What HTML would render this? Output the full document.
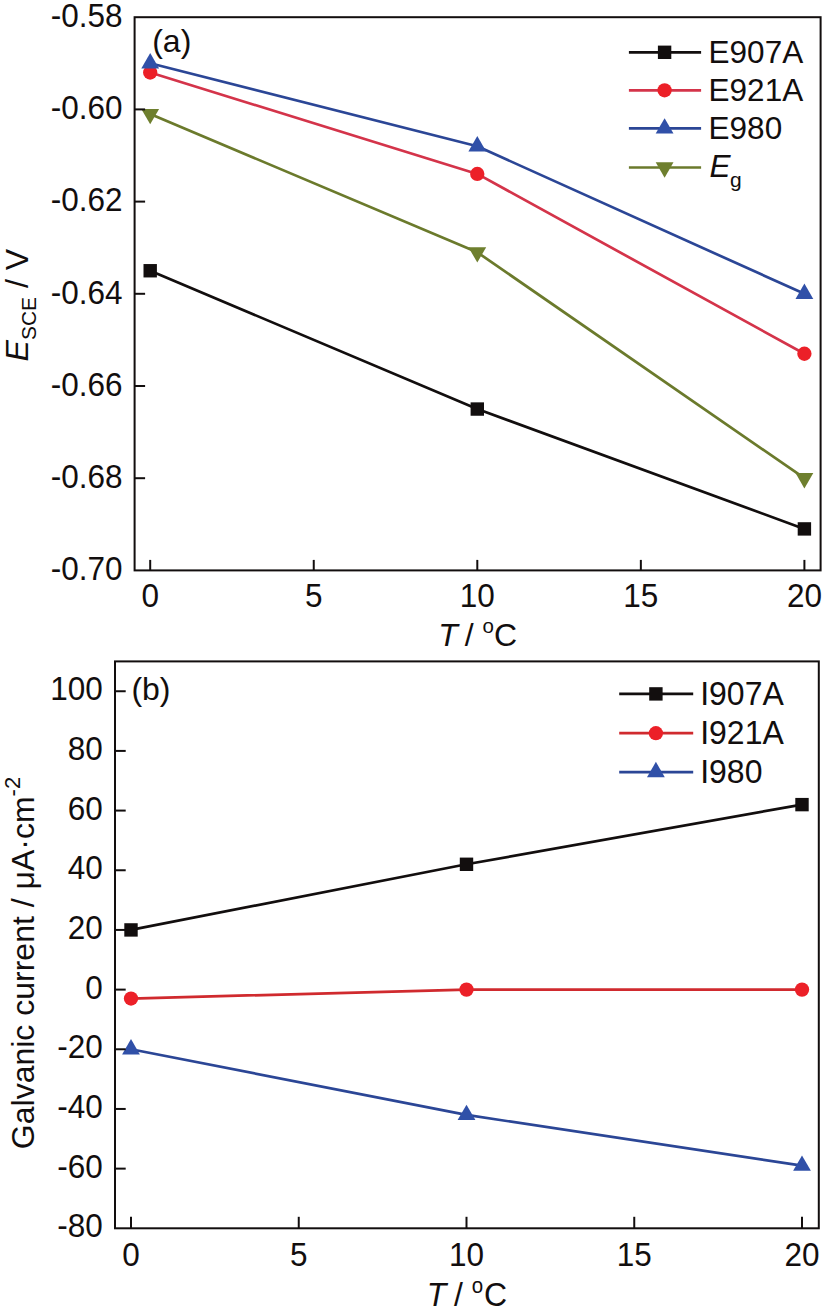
<!DOCTYPE html>
<html><head><meta charset="utf-8"><title>Chart</title>
<style>
html,body{margin:0;padding:0;background:#fff;}
svg{display:block;}
text{font-family:"Liberation Sans", Arial, Helvetica, sans-serif;fill:#120e0e;}
</style></head>
<body>
<svg width="827" height="1310" viewBox="0 0 827 1310">
<rect width="827" height="1310" fill="#fff"/>
<polyline points="150.20,270.75 477.30,409.05 804.40,528.91" fill="none" stroke="#120e0e" stroke-width="2.7" stroke-linejoin="round"/>
<rect x="143.50" y="264.05" width="13.40" height="13.40" fill="#120e0e"/>
<rect x="470.60" y="402.35" width="13.40" height="13.40" fill="#120e0e"/>
<rect x="797.70" y="522.21" width="13.40" height="13.40" fill="#120e0e"/>
<polyline points="150.20,72.52 477.30,173.94 804.40,353.73" fill="none" stroke="#D4344A" stroke-width="2.7" stroke-linejoin="round"/>
<circle cx="150.20" cy="72.52" r="7.15" fill="#EC2028"/>
<circle cx="477.30" cy="173.94" r="7.15" fill="#EC2028"/>
<circle cx="804.40" cy="353.73" r="7.15" fill="#EC2028"/>
<polyline points="150.20,63.30 477.30,146.28 804.40,293.80" fill="none" stroke="#2B4696" stroke-width="2.7" stroke-linejoin="round"/>
<polygon points="150.20,53.03 141.30,68.43 159.10,68.43" fill="#3050A8"/>
<polygon points="477.30,136.01 468.40,151.41 486.20,151.41" fill="#3050A8"/>
<polygon points="804.40,283.53 795.50,298.93 813.30,298.93" fill="#3050A8"/>
<polyline points="150.20,114.01 477.30,252.31 804.40,478.20" fill="none" stroke="#6B7A2C" stroke-width="2.7" stroke-linejoin="round"/>
<polygon points="150.20,124.28 141.30,108.88 159.10,108.88" fill="#6E7F2E"/>
<polygon points="477.30,262.58 468.40,247.18 486.20,247.18" fill="#6E7F2E"/>
<polygon points="804.40,488.47 795.50,473.07 813.30,473.07" fill="#6E7F2E"/>
<rect x="134.6" y="17.2" width="686.0" height="553.1999999999999" fill="none" stroke="#120e0e" stroke-width="2.0"/>
<text transform="translate(122.50,27.00) scale(1,1.035)" font-size="31.5" text-anchor="end">-0.58</text>
<line x1="134.60" y1="109.40" x2="145.10" y2="109.40" stroke="#120e0e" stroke-width="2.0"/>
<text transform="translate(122.50,119.20) scale(1,1.035)" font-size="31.5" text-anchor="end">-0.60</text>
<line x1="134.60" y1="201.60" x2="145.10" y2="201.60" stroke="#120e0e" stroke-width="2.0"/>
<text transform="translate(122.50,211.40) scale(1,1.035)" font-size="31.5" text-anchor="end">-0.62</text>
<line x1="134.60" y1="293.80" x2="145.10" y2="293.80" stroke="#120e0e" stroke-width="2.0"/>
<text transform="translate(122.50,303.60) scale(1,1.035)" font-size="31.5" text-anchor="end">-0.64</text>
<line x1="134.60" y1="386.00" x2="145.10" y2="386.00" stroke="#120e0e" stroke-width="2.0"/>
<text transform="translate(122.50,395.80) scale(1,1.035)" font-size="31.5" text-anchor="end">-0.66</text>
<line x1="134.60" y1="478.20" x2="145.10" y2="478.20" stroke="#120e0e" stroke-width="2.0"/>
<text transform="translate(122.50,488.00) scale(1,1.035)" font-size="31.5" text-anchor="end">-0.68</text>
<text transform="translate(122.50,580.20) scale(1,1.035)" font-size="31.5" text-anchor="end">-0.70</text>
<line x1="150.20" y1="570.40" x2="150.20" y2="559.90" stroke="#120e0e" stroke-width="2.0"/>
<text transform="translate(150.20,607.00) scale(1,1.04)" font-size="31.5" text-anchor="middle">0</text>
<line x1="313.75" y1="570.40" x2="313.75" y2="559.90" stroke="#120e0e" stroke-width="2.0"/>
<text transform="translate(313.75,607.00) scale(1,1.04)" font-size="31.5" text-anchor="middle">5</text>
<line x1="477.30" y1="570.40" x2="477.30" y2="559.90" stroke="#120e0e" stroke-width="2.0"/>
<text transform="translate(477.30,607.00) scale(1,1.04)" font-size="31.5" text-anchor="middle">10</text>
<line x1="640.85" y1="570.40" x2="640.85" y2="559.90" stroke="#120e0e" stroke-width="2.0"/>
<text transform="translate(640.85,607.00) scale(1,1.04)" font-size="31.5" text-anchor="middle">15</text>
<line x1="804.40" y1="570.40" x2="804.40" y2="559.90" stroke="#120e0e" stroke-width="2.0"/>
<text transform="translate(804.40,607.00) scale(1,1.04)" font-size="31.5" text-anchor="middle">20</text>
<g transform="translate(0,645.80) scale(1,1.0)"><text x="438.15" y="0" font-size="32.0" font-style="italic">T</text><text x="464.85" y="0" font-size="32.0">/</text><text x="482.50" y="-12.4" font-size="20.5">o</text><text x="493.95" y="0" font-size="32.0">C</text></g>
<text transform="translate(28.2,305.2) rotate(-90)" font-size="32.0" text-anchor="middle"><tspan font-style="italic">E</tspan><tspan font-size="21" dy="8">SCE</tspan><tspan dy="-8"> / V</tspan></text>
<text x="152.20" y="52.20" font-size="32" text-anchor="start">(a)</text>
<line x1="628.90" y1="52.30" x2="701.10" y2="52.30" stroke="#120e0e" stroke-width="2.7"/>
<rect x="657.90" y="45.60" width="13.40" height="13.40" fill="#120e0e"/>
<text x="708.60" y="63.30" font-size="31.5" text-anchor="start">E907A</text>
<line x1="628.90" y1="90.30" x2="701.10" y2="90.30" stroke="#D4344A" stroke-width="2.7"/>
<circle cx="664.60" cy="90.30" r="7.15" fill="#EC2028"/>
<text x="708.60" y="101.30" font-size="31.5" text-anchor="start">E921A</text>
<line x1="628.90" y1="128.40" x2="701.10" y2="128.40" stroke="#2B4696" stroke-width="2.7"/>
<polygon points="664.60,118.13 655.70,133.53 673.50,133.53" fill="#3050A8"/>
<text x="708.60" y="139.40" font-size="31.5" text-anchor="start">E980</text>
<line x1="628.90" y1="167.50" x2="701.10" y2="167.50" stroke="#6B7A2C" stroke-width="2.7"/>
<polygon points="664.60,177.77 655.70,162.37 673.50,162.37" fill="#6E7F2E"/>
<text x="708.60" y="178.50" font-size="31.5" text-anchor="start"><tspan font-style="italic" dx="0.9" dy="-1.1">E</tspan><tspan font-size="21" dx="-0.6" dy="9.1">g</tspan></text>
<polyline points="131.00,929.93 466.50,864.29 802.00,804.62" fill="none" stroke="#120e0e" stroke-width="2.7" stroke-linejoin="round"/>
<rect x="124.30" y="923.23" width="13.40" height="13.40" fill="#120e0e"/>
<rect x="459.80" y="857.59" width="13.40" height="13.40" fill="#120e0e"/>
<rect x="795.30" y="797.92" width="13.40" height="13.40" fill="#120e0e"/>
<polyline points="131.00,998.56 466.50,989.61 802.00,989.61" fill="none" stroke="#D02A2E" stroke-width="2.7" stroke-linejoin="round"/>
<circle cx="131.00" cy="998.56" r="7.15" fill="#EC2028"/>
<circle cx="466.50" cy="989.61" r="7.15" fill="#EC2028"/>
<circle cx="802.00" cy="989.61" r="7.15" fill="#EC2028"/>
<polyline points="131.00,1049.28 466.50,1114.92 802.00,1165.64" fill="none" stroke="#2B4696" stroke-width="2.7" stroke-linejoin="round"/>
<polygon points="131.00,1039.01 122.10,1054.41 139.90,1054.41" fill="#3050A8"/>
<polygon points="466.50,1104.65 457.60,1120.05 475.40,1120.05" fill="#3050A8"/>
<polygon points="802.00,1155.38 793.10,1170.78 810.90,1170.78" fill="#3050A8"/>
<rect x="115.0" y="661.4" width="703.8" height="566.9" fill="none" stroke="#120e0e" stroke-width="2.0"/>
<text transform="translate(102.80,1237.40) scale(1,1.075)" font-size="31.5" text-anchor="end">-80</text>
<line x1="115.00" y1="1168.63" x2="125.70" y2="1168.63" stroke="#120e0e" stroke-width="2.0"/>
<text transform="translate(102.80,1177.73) scale(1,1.075)" font-size="31.5" text-anchor="end">-60</text>
<line x1="115.00" y1="1108.95" x2="125.70" y2="1108.95" stroke="#120e0e" stroke-width="2.0"/>
<text transform="translate(102.80,1118.05) scale(1,1.075)" font-size="31.5" text-anchor="end">-40</text>
<line x1="115.00" y1="1049.28" x2="125.70" y2="1049.28" stroke="#120e0e" stroke-width="2.0"/>
<text transform="translate(102.80,1058.38) scale(1,1.075)" font-size="31.5" text-anchor="end">-20</text>
<line x1="115.00" y1="989.61" x2="125.70" y2="989.61" stroke="#120e0e" stroke-width="2.0"/>
<text transform="translate(102.80,998.71) scale(1,1.075)" font-size="31.5" text-anchor="end">0</text>
<line x1="115.00" y1="929.93" x2="125.70" y2="929.93" stroke="#120e0e" stroke-width="2.0"/>
<text transform="translate(102.80,939.03) scale(1,1.075)" font-size="31.5" text-anchor="end">20</text>
<line x1="115.00" y1="870.26" x2="125.70" y2="870.26" stroke="#120e0e" stroke-width="2.0"/>
<text transform="translate(102.80,879.36) scale(1,1.075)" font-size="31.5" text-anchor="end">40</text>
<line x1="115.00" y1="810.58" x2="125.70" y2="810.58" stroke="#120e0e" stroke-width="2.0"/>
<text transform="translate(102.80,819.68) scale(1,1.075)" font-size="31.5" text-anchor="end">60</text>
<line x1="115.00" y1="750.91" x2="125.70" y2="750.91" stroke="#120e0e" stroke-width="2.0"/>
<text transform="translate(102.80,760.01) scale(1,1.075)" font-size="31.5" text-anchor="end">80</text>
<line x1="115.00" y1="691.24" x2="125.70" y2="691.24" stroke="#120e0e" stroke-width="2.0"/>
<text transform="translate(102.80,700.34) scale(1,1.075)" font-size="31.5" text-anchor="end">100</text>
<line x1="131.00" y1="1228.30" x2="131.00" y2="1216.80" stroke="#120e0e" stroke-width="2.0"/>
<text transform="translate(131.00,1265.50) scale(1,1.08)" font-size="31.5" text-anchor="middle">0</text>
<line x1="298.75" y1="1228.30" x2="298.75" y2="1216.80" stroke="#120e0e" stroke-width="2.0"/>
<text transform="translate(298.75,1265.50) scale(1,1.08)" font-size="31.5" text-anchor="middle">5</text>
<line x1="466.50" y1="1228.30" x2="466.50" y2="1216.80" stroke="#120e0e" stroke-width="2.0"/>
<text transform="translate(466.50,1265.50) scale(1,1.08)" font-size="31.5" text-anchor="middle">10</text>
<line x1="634.25" y1="1228.30" x2="634.25" y2="1216.80" stroke="#120e0e" stroke-width="2.0"/>
<text transform="translate(634.25,1265.50) scale(1,1.08)" font-size="31.5" text-anchor="middle">15</text>
<line x1="802.00" y1="1228.30" x2="802.00" y2="1216.80" stroke="#120e0e" stroke-width="2.0"/>
<text transform="translate(802.00,1265.50) scale(1,1.08)" font-size="31.5" text-anchor="middle">20</text>
<g transform="translate(0,1305.80) scale(1,1.04)"><text x="426.80" y="0" font-size="32.0" font-style="italic">T</text><text x="453.95" y="0" font-size="32.0">/</text><text x="471.85" y="-12.7" font-size="20.5">o</text><text x="484.05" y="0" font-size="32.0">C</text></g>
<text transform="translate(33.8,963) rotate(-90)" font-size="32.0" text-anchor="middle">Galvanic current / μA·cm<tspan font-size="22" dy="-14">-2</tspan></text>
<text x="131.40" y="699.90" font-size="32" text-anchor="start">(b)</text>
<line x1="619.20" y1="693.90" x2="693.20" y2="693.90" stroke="#120e0e" stroke-width="2.7"/>
<rect x="649.20" y="687.20" width="13.40" height="13.40" fill="#120e0e"/>
<text transform="translate(700.20,704.90) scale(1,1.035)" font-size="32" text-anchor="start">I907A</text>
<line x1="619.20" y1="733.20" x2="693.20" y2="733.20" stroke="#D02A2E" stroke-width="2.7"/>
<circle cx="655.90" cy="733.20" r="7.15" fill="#EC2028"/>
<text transform="translate(700.20,744.20) scale(1,1.035)" font-size="32" text-anchor="start">I921A</text>
<line x1="619.20" y1="772.10" x2="693.20" y2="772.10" stroke="#2B4696" stroke-width="2.7"/>
<polygon points="655.90,761.83 647.00,777.23 664.80,777.23" fill="#3050A8"/>
<text transform="translate(700.20,783.10) scale(1,1.035)" font-size="32" text-anchor="start">I980</text>
</svg>
</body></html>
